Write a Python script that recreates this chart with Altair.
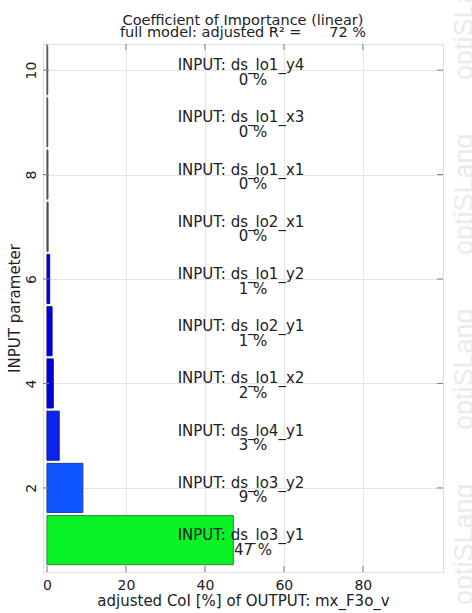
import altair as alt
import pandas as pd

# ---------------- data ----------------
params = [1, 2, 3, 4, 5, 6, 7, 8, 9, 10]
names = ["ds_lo3_y1", "ds_lo3_y2", "ds_lo4_y1", "ds_lo1_x2", "ds_lo2_y1",
         "ds_lo1_y2", "ds_lo2_x1", "ds_lo1_x1", "ds_lo1_x3", "ds_lo1_y4"]
coi = [47.2, 9.1, 3.1, 1.6, 1.3, 0.7, 0.3, 0.25, 0.2, 0.2]
coi_pct = [47, 9, 3, 2, 1, 1, 0, 0, 0, 0]
x_ticks = [0, 20, 40, 60, 80]
y_ticks = [2, 4, 6, 8, 10]
r2_full = 72
title_line1 = "Coefficient of Importance (linear)"
title_line2 = "full model: adjusted R\u00b2 =" + "\u00a0" * 6 + f"{r2_full} %"
x_title = "adjusted CoI [%] of OUTPUT: mx_F3o_v"
y_title = "INPUT parameter"
watermark = "optiSLang"

# ---------------- style ----------------
fills = ["#08f226", "#0f55ff", "#0a24ee", "#0000dd", "#0000dd", "#0000dd",
         "#3a3a55", "#3a3a55", "#3a3a55", "#3a3a55"]
strokes = ["#2e8a30", "#2040a0", "#10209a", "#101090", "#101090", "#101090",
           "#555555", "#555555", "#555555", "#555555"]
FONT = "DejaVu Sans"
TXT = "#222222"
W, H = 400, 528

df = pd.DataFrame({"param": params, "name": names, "coi": coi, "pct": coi_pct})

xs = alt.Scale(domain=[-1, 100.3], nice=False, zero=False)
ys = alt.Scale(domain=[0.39, 10.5], nice=False, zero=False)

base = alt.Chart(df).transform_calculate(
    lo="datum.param - 0.47", hi="datum.param + 0.47",
    l1="'INPUT: ' + datum.name", l2="datum.pct + ' %'"
)

bars = base.mark_rect(strokeWidth=1).encode(
    x=alt.X("coi:Q", scale=xs,
            axis=alt.Axis(values=x_ticks, title=x_title, grid=True, gridColor="#e4e4e4",
                          ticks=False, domain=False, labelFont=FONT, labelFontSize=14,
                          labelColor=TXT, labelPadding=6, titleFont=FONT, titleFontSize=15,
                          titleFontWeight="normal", titleColor=TXT, titlePadding=1)),
    x2=alt.datum(0),
    y=alt.Y("lo:Q", scale=ys,
            axis=alt.Axis(values=y_ticks, title=y_title, grid=True, gridColor="#e4e4e4",
                          ticks=False, domain=False, labelFont=FONT, labelFontSize=14,
                          labelColor=TXT, labelAngle=270, labelAlign="center",
                          labelBaseline="bottom", labelPadding=5,
                          titleFont=FONT, titleFontSize=15, titleFontWeight="normal",
                          titleColor=TXT, titlePadding=2)),
    y2="hi:Q",
    fill=alt.Fill("name:N", scale=alt.Scale(domain=names, range=fills), legend=None),
    stroke=alt.Stroke("name:N", scale=alt.Scale(domain=names, range=strokes), legend=None),
)

lab1 = base.mark_text(font=FONT, fontSize=15, color=TXT, align="center",
                      baseline="alphabetic", dy=0).encode(
    x=alt.value(198), y=alt.Y("param:Q", scale=ys), text="l1:N")
lab2 = base.mark_text(font=FONT, fontSize=15, color=TXT, align="center",
                      baseline="alphabetic", dy=14.5).encode(
    x=alt.value(210), y=alt.Y("param:Q", scale=ys), text="l2:N")

# inward ticks on the frame
xt = alt.Chart(pd.DataFrame({"t": x_ticks}))
yt = alt.Chart(pd.DataFrame({"t": y_ticks}))
tick_style = dict(color="#808080", strokeWidth=1)
t_bottom = xt.mark_rule(**tick_style).encode(
    x=alt.X("t:Q", scale=xs), y=alt.value(H), y2=alt.value(H - 6))
t_top = xt.mark_rule(**tick_style).encode(
    x=alt.X("t:Q", scale=xs), y=alt.value(0), y2=alt.value(6))
t_left = yt.mark_rule(**tick_style).encode(
    y=alt.Y("t:Q", scale=ys), x=alt.value(0), x2=alt.value(6))
t_right = yt.mark_rule(**tick_style).encode(
    y=alt.Y("t:Q", scale=ys), x=alt.value(W), x2=alt.value(W - 6))

# two-line title (placed above the plot frame)
ttl = alt.Chart(pd.DataFrame({"a": [title_line1], "b": [title_line2]}))
title1 = ttl.mark_text(font=FONT, fontSize=14.5, color=TXT, align="center",
                       baseline="alphabetic").encode(
    x=alt.value(W / 2), y=alt.value(-19), text="a:N")
title2 = ttl.mark_text(font=FONT, fontSize=14.5, color=TXT, align="center",
                       baseline="alphabetic").encode(
    x=alt.value(W / 2), y=alt.value(-7), text="b:N")

# watermark along the right edge (decoration)
wm_layers = []
for yy in [561, 386, 211, 36]:
    wm_layers.append(
        alt.Chart(pd.DataFrame({"w": [watermark]})).mark_text(
            font="Liberation Sans", fontSize=27, color="#ebebeb", angle=270, align="left",
            baseline="alphabetic").encode(x=alt.value(430), y=alt.value(yy), text="w:N"))

chart = alt.layer(bars, lab1, lab2, t_bottom, t_top, t_left, t_right,
                  title1, title2, *wm_layers).properties(
    width=W, height=H,
    autosize=alt.AutoSizeParams(type="none"),
    padding={"left": 43, "top": 44, "right": 29, "bottom": 41},
).configure_view(stroke="#808080", strokeWidth=1.2).configure(background="white")

chart.save("out.html", embed_options={"renderer": "svg", "actions": False})
